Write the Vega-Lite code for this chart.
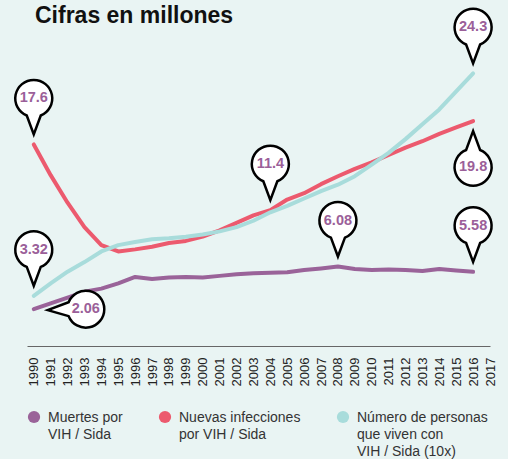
{
  "$schema": "https://vega.github.io/schema/vega-lite/v6.json",
  "width": 463,
  "height": 322,
  "autosize": {"type": "none"},
  "padding": {"left": 27, "top": 24, "right": 18, "bottom": 113},
  "background": "#e9f4f3",
  "config": {"view": {"stroke": null}},
  "title": {"text": "Cifras en millones", "anchor": "start", "frame": "group", "dx": 8, "dy": 42, "offset": 0, "baseline": "alphabetic", "fontSize": 23, "fontWeight": "bold", "font": "Liberation Sans", "color": "#111111"},
  "datasets": {
    "series": [
      {"year": 1990, "muertes": 2.06, "nuevas": 17.6, "personas": 3.32},
      {"year": 1991, "muertes": 2.6, "nuevas": 14.7, "personas": 4.5},
      {"year": 1992, "muertes": 3.15, "nuevas": 12.1, "personas": 5.6},
      {"year": 1993, "muertes": 3.7, "nuevas": 9.8, "personas": 6.5},
      {"year": 1994, "muertes": 4.0, "nuevas": 8.1, "personas": 7.5},
      {"year": 1995, "muertes": 4.5, "nuevas": 7.5, "personas": 8.1},
      {"year": 1996, "muertes": 5.1, "nuevas": 7.7, "personas": 8.4},
      {"year": 1997, "muertes": 4.9, "nuevas": 7.95, "personas": 8.65},
      {"year": 1998, "muertes": 5.05, "nuevas": 8.3, "personas": 8.75},
      {"year": 1999, "muertes": 5.1, "nuevas": 8.5, "personas": 8.9},
      {"year": 2000, "muertes": 5.05, "nuevas": 8.9, "personas": 9.1},
      {"year": 2001, "muertes": 5.2, "nuevas": 9.5, "personas": 9.4},
      {"year": 2002, "muertes": 5.35, "nuevas": 10.2, "personas": 9.8},
      {"year": 2003, "muertes": 5.45, "nuevas": 10.9, "personas": 10.4},
      {"year": 2004, "muertes": 5.5, "nuevas": 11.4, "personas": 11.2},
      {"year": 2005, "muertes": 5.55, "nuevas": 12.4, "personas": 11.8},
      {"year": 2006, "muertes": 5.75, "nuevas": 13.0, "personas": 12.5},
      {"year": 2007, "muertes": 5.9, "nuevas": 13.85, "personas": 13.2},
      {"year": 2008, "muertes": 6.08, "nuevas": 14.6, "personas": 13.8},
      {"year": 2009, "muertes": 5.85, "nuevas": 15.3, "personas": 14.6},
      {"year": 2010, "muertes": 5.75, "nuevas": 15.9, "personas": 15.7},
      {"year": 2011, "muertes": 5.8, "nuevas": 16.6, "personas": 16.8},
      {"year": 2012, "muertes": 5.75, "nuevas": 17.3, "personas": 18.1},
      {"year": 2013, "muertes": 5.65, "nuevas": 17.9, "personas": 19.5},
      {"year": 2014, "muertes": 5.85, "nuevas": 18.6, "personas": 20.9},
      {"year": 2015, "muertes": 5.7, "nuevas": 19.2, "personas": 22.6},
      {"year": 2016, "muertes": 5.58, "nuevas": 19.8, "personas": 24.3}
    ],
    "above": [
      {"year": 1990, "value": 17.6},
      {"year": 1990, "value": 3.32},
      {"year": 2004, "value": 11.4},
      {"year": 2008, "value": 6.08},
      {"year": 2016, "value": 24.3},
      {"year": 2016, "value": 5.58}
    ],
    "below": [
      {"year": 2016, "value": 19.8}
    ],
    "right": [
      {"year": 1990, "value": 2.06}
    ]
  },
  "encoding": {
    "x": {"field": "year", "type": "quantitative",
      "scale": {"domain": [1989.6, 2017], "nice": false, "zero": false},
      "axis": {"values": [1990,1991,1992,1993,1994,1995,1996,1997,1998,1999,2000,2001,2002,2003,2004,2005,2006,2007,2008,2009,2010,2011,2012,2013,2014,2015,2016,2017],
        "format": "d", "labelAngle": 270, "labelAlign": "right", "labelBaseline": "middle", "ticks": false, "grid": false, "title": null,
        "domainColor": "#666666", "domainWidth": 1, "labelFontSize": 13, "labelPadding": 11, "labelFont": "Liberation Sans", "labelColor": "#222222",
        "labelOverlap": false, "labelFlush": false, "labelBound": false, "labelSeparation": 0}},
    "y": {"field": "value", "type": "quantitative",
      "scale": {"domain": [-1.415, 28.96], "nice": false, "zero": false},
      "axis": null}
  },
  "layer": [
    {
      "data": {"name": "series"},
      "transform": [{"fold": ["muertes", "nuevas", "personas"], "as": ["serie", "value"]}],
      "mark": {"type": "line", "strokeWidth": 4, "strokeCap": "round", "strokeJoin": "round"},
      "encoding": {
        "color": {"field": "serie", "type": "nominal",
          "scale": {"domain": ["muertes", "nuevas", "personas"], "range": ["#9a6399", "#ec5a6e", "#a8dcdb"]},
          "legend": {"title": null, "orient": "bottom", "direction": "horizontal", "columns": 3, "offset": 24,
            "symbolType": "circle", "symbolSize": 150, "symbolStrokeWidth": 0,
            "labelFontSize": 14, "labelFont": "Liberation Sans", "labelColor": "#333333", "labelOffset": 7, "labelLimit": 200,
            "labelBaseline": "alphabetic", "columnPadding": 35,
            "labelExpr": "datum.value == 'muertes' ? ['Muertes por', 'VIH / Sida', ''] : datum.value == 'nuevas' ? ['Nuevas infecciones', 'por VIH / Sida', ''] : ['Número de personas', 'que viven con', 'VIH / Sida (10x)']",
            "encode": {
              "symbols": {"update": {"fill": {"scale": "color", "field": "value"}, "strokeWidth": {"value": 0}, "opacity": {"value": 1}}},
              "labels": {"update": {"lineHeight": {"value": 17}, "dy": {"value": 5}}}
            }}}
      }
    },
    {
      "data": {"name": "above"},
      "mark": {"type": "point", "shape": "M -7 -28.9 L 0 -10 L 7 -28.9 A 18.5 18.5 0 1 0 -7 -28.9 Z", "size": 4, "filled": false, "fill": "#ffffff", "fillOpacity": 1, "stroke": "#000000", "strokeWidth": 2.5, "opacity": 1, "strokeJoin": "miter"}
    },
    {
      "data": {"name": "above"},
      "mark": {"type": "text", "dy": -46, "align": "center", "baseline": "middle", "font": "Liberation Sans", "fontWeight": "bold", "fontSize": 14.5, "fill": "#9b5f99"},
      "encoding": {
        "text": {"field": "value", "type": "quantitative", "format": ".3r"}
      }
    },
    {
      "data": {"name": "below"},
      "mark": {"type": "point", "shape": "M -7 28.9 L 0 10 L 7 28.9 A 18.5 18.5 0 1 1 -7 28.9 Z", "size": 4, "filled": false, "fill": "#ffffff", "fillOpacity": 1, "stroke": "#000000", "strokeWidth": 2.5, "opacity": 1, "strokeJoin": "miter"}
    },
    {
      "data": {"name": "below"},
      "mark": {"type": "text", "dy": 46, "align": "center", "baseline": "middle", "font": "Liberation Sans", "fontWeight": "bold", "fontSize": 14.5, "fill": "#9b5f99"},
      "encoding": {
        "text": {"field": "value", "type": "quantitative", "format": ".3r"}
      }
    },
    {
      "data": {"name": "right"},
      "mark": {"type": "point", "shape": "M 34.9 7 L 14 1 L 34.9 -7 A 18.5 18.5 0 1 1 34.9 7 Z", "size": 4, "filled": false, "fill": "#ffffff", "fillOpacity": 1, "stroke": "#000000", "strokeWidth": 2.5, "opacity": 1, "strokeJoin": "miter"}
    },
    {
      "data": {"name": "right"},
      "mark": {"type": "text", "dx": 52, "dy": 0, "align": "center", "baseline": "middle", "font": "Liberation Sans", "fontWeight": "bold", "fontSize": 14.5, "fill": "#9b5f99"},
      "encoding": {
        "text": {"field": "value", "type": "quantitative", "format": ".3r"}
      }
    }
  ]
}
